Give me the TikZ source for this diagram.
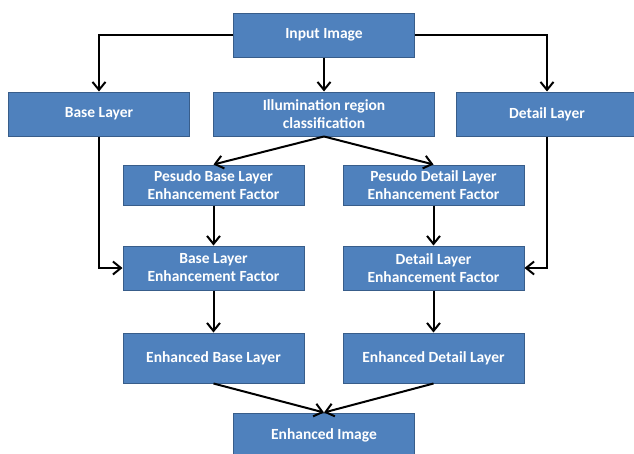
\documentclass[tikz,border=0pt]{standalone}
\usepackage{fontspec}
\setmainfont{Carlito}
\usetikzlibrary{arrows.meta}
\definecolor{boxblue}{RGB}{79,129,189}
\definecolor{boxedge}{RGB}{56,93,138}
\begin{document}
\begin{tikzpicture}
[x=1pt,y=-1pt,
  boxdecorate/.style={shape=rectangle,draw=boxedge,fill=boxblue,line width=1pt,
    text=white,font=\bfseries\fontsize{15.5}{18}\selectfont,align=center,
    minimum width=181pt,minimum height=44pt,inner sep=0pt},%
  linedecorate/.style={-{Straight Barb[length=8pt,width=13pt]},line width=2pt}]
\clip (0,0) rectangle (634,453);
\useasboundingbox (0,0) rectangle (634,453);
%% nodes or boxes
\foreach \nodename/\x/\y/\h/\label in {input/324/35/44/{Input Image},
  base/99/114/44/{Base Layer}, detail/547/114/44/{Detail Layer},
  pbase/213.5/185/40/{Pesudo Base Layer\\Enhancement Factor},
  pdetail/433.5/185/40/{Pesudo Detail Layer\\Enhancement Factor},
  basef/213.5/268/44/{Base Layer\\Enhancement Factor},
  detailf/433.5/268/44/{Detail Layer\\Enhancement Factor},
  ebase/213.5/358/50/{Enhanced Base Layer},
  edetail/433.5/358/50/{Enhanced Detail Layer},
  eimage/324/435/44/{Enhanced Image}} {
  \node (\nodename) at (\x,\y) [boxdecorate,minimum height=\h pt] {\label};
}
\node (illum) at (324,114) [boxdecorate,minimum width=221pt]
  {Illumination region\\classification};
%% straight lines
\path
\foreach \startnode/\endnode in {input/illum, illum/pbase, illum/pdetail,
  pbase/basef, pdetail/detailf, basef/ebase, detailf/edetail,
  ebase/eimage, edetail/eimage} {
  (\startnode.south) edge[linedecorate] (\endnode.north)
};
%% elbow lines
\draw[linedecorate] (input.west) -| (base.north);
\draw[linedecorate] (input.east) -| (detail.north);
\draw[linedecorate] (base.south) |- (basef.west);
\draw[linedecorate] (detail.south) |- (detailf.east);
\end{tikzpicture}
\end{document}
